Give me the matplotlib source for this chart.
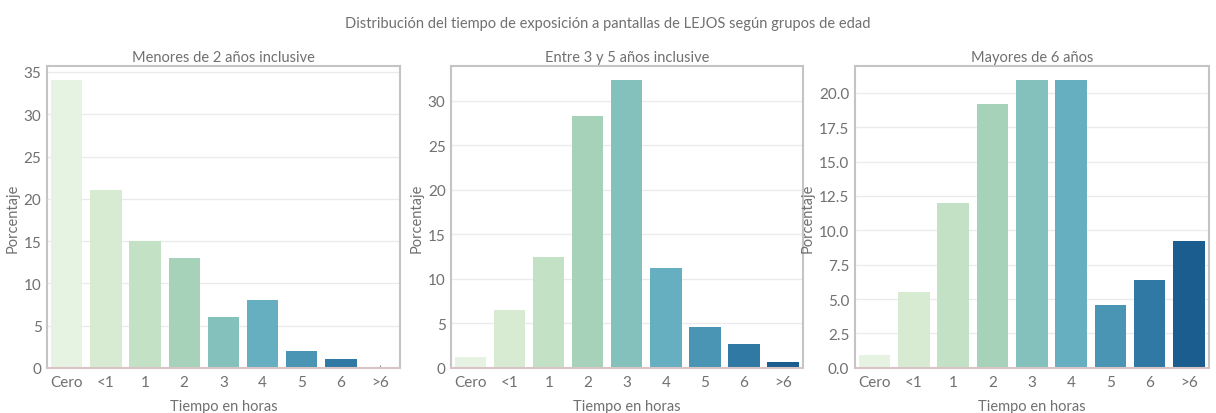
import numpy as np
import matplotlib
matplotlib.use("Agg")
import matplotlib.pyplot as plt
import seaborn as sns

# horas de pantalla de lejos, porcentaje por grupo de edad
horas = ["Cero", "<1", "1", "2", "3", "4", "5", "6", ">6"]
menores_2 = [34, 21, 15, 13, 6, 8, 2, 1, 0]
entre_3_5 = [1.25, 6.55, 12.5, 28.3, 32.3, 11.2, 4.6, 2.65, 0.7]
mayores_6 = [0.9, 5.5, 12.0, 19.2, 20.9, 20.9, 4.6, 6.4, 9.2]

titulos = ["Menores de 2 años inclusive", "Entre 3 y 5 años inclusive", "Mayores de 6 años"]
series = [menores_2, entre_3_5, mayores_6]

plt.rcParams['font.family'] = ['Lato', 'DejaVu Sans']
gris = "#707070"
colores = sns.color_palette("GnBu", 9, desat=0.75)

fig = plt.figure(figsize=(12.16, 4.14), dpi=100)
posiciones = [[0.0387, 0.109, 0.290, 0.729],
              [0.371, 0.109, 0.289, 0.729],
              [0.703, 0.109, 0.291, 0.729]]

for pos, titulo, valores in zip(posiciones, titulos, series):
    ax = fig.add_axes(pos)
    x = np.arange(len(horas))
    ax.bar(x, valores, width=0.8, color=colores, zorder=2)
    ax.set_xlim(-0.5, len(horas) - 0.5)
    ax.set_ylim(0, max(valores) * 1.05)
    ax.set_xticks(x)
    ax.set_xticklabels(horas)
    ax.yaxis.grid(True, color="#ebebeb", linewidth=1, zorder=0)
    ax.set_axisbelow(True)
    for s in ax.spines.values():
        s.set_color("#c4c4c4")
        s.set_linewidth(1.5)
    ax.spines["bottom"].set_color("#d8c4c4")
    ax.tick_params(axis="both", colors=gris, labelsize=11, length=0, pad=4)
    ax.tick_params(axis="x", length=2, color="#888888", direction="in", pad=5)
    ax.set_title(titulo, fontsize=10.5, color=gris, pad=4)
    ax.set_xlabel("Tiempo en horas", fontsize=10.5, color=gris, labelpad=7)
    ax.set_ylabel("Porcentaje", fontsize=10.5, color=gris, labelpad=3)

fig.suptitle("Distribución del tiempo de exposición a pantallas de LEJOS según grupos de edad",
             y=0.96, fontsize=10.5, color=gris)
fig.savefig("out.png", dpi=100, facecolor="white")
